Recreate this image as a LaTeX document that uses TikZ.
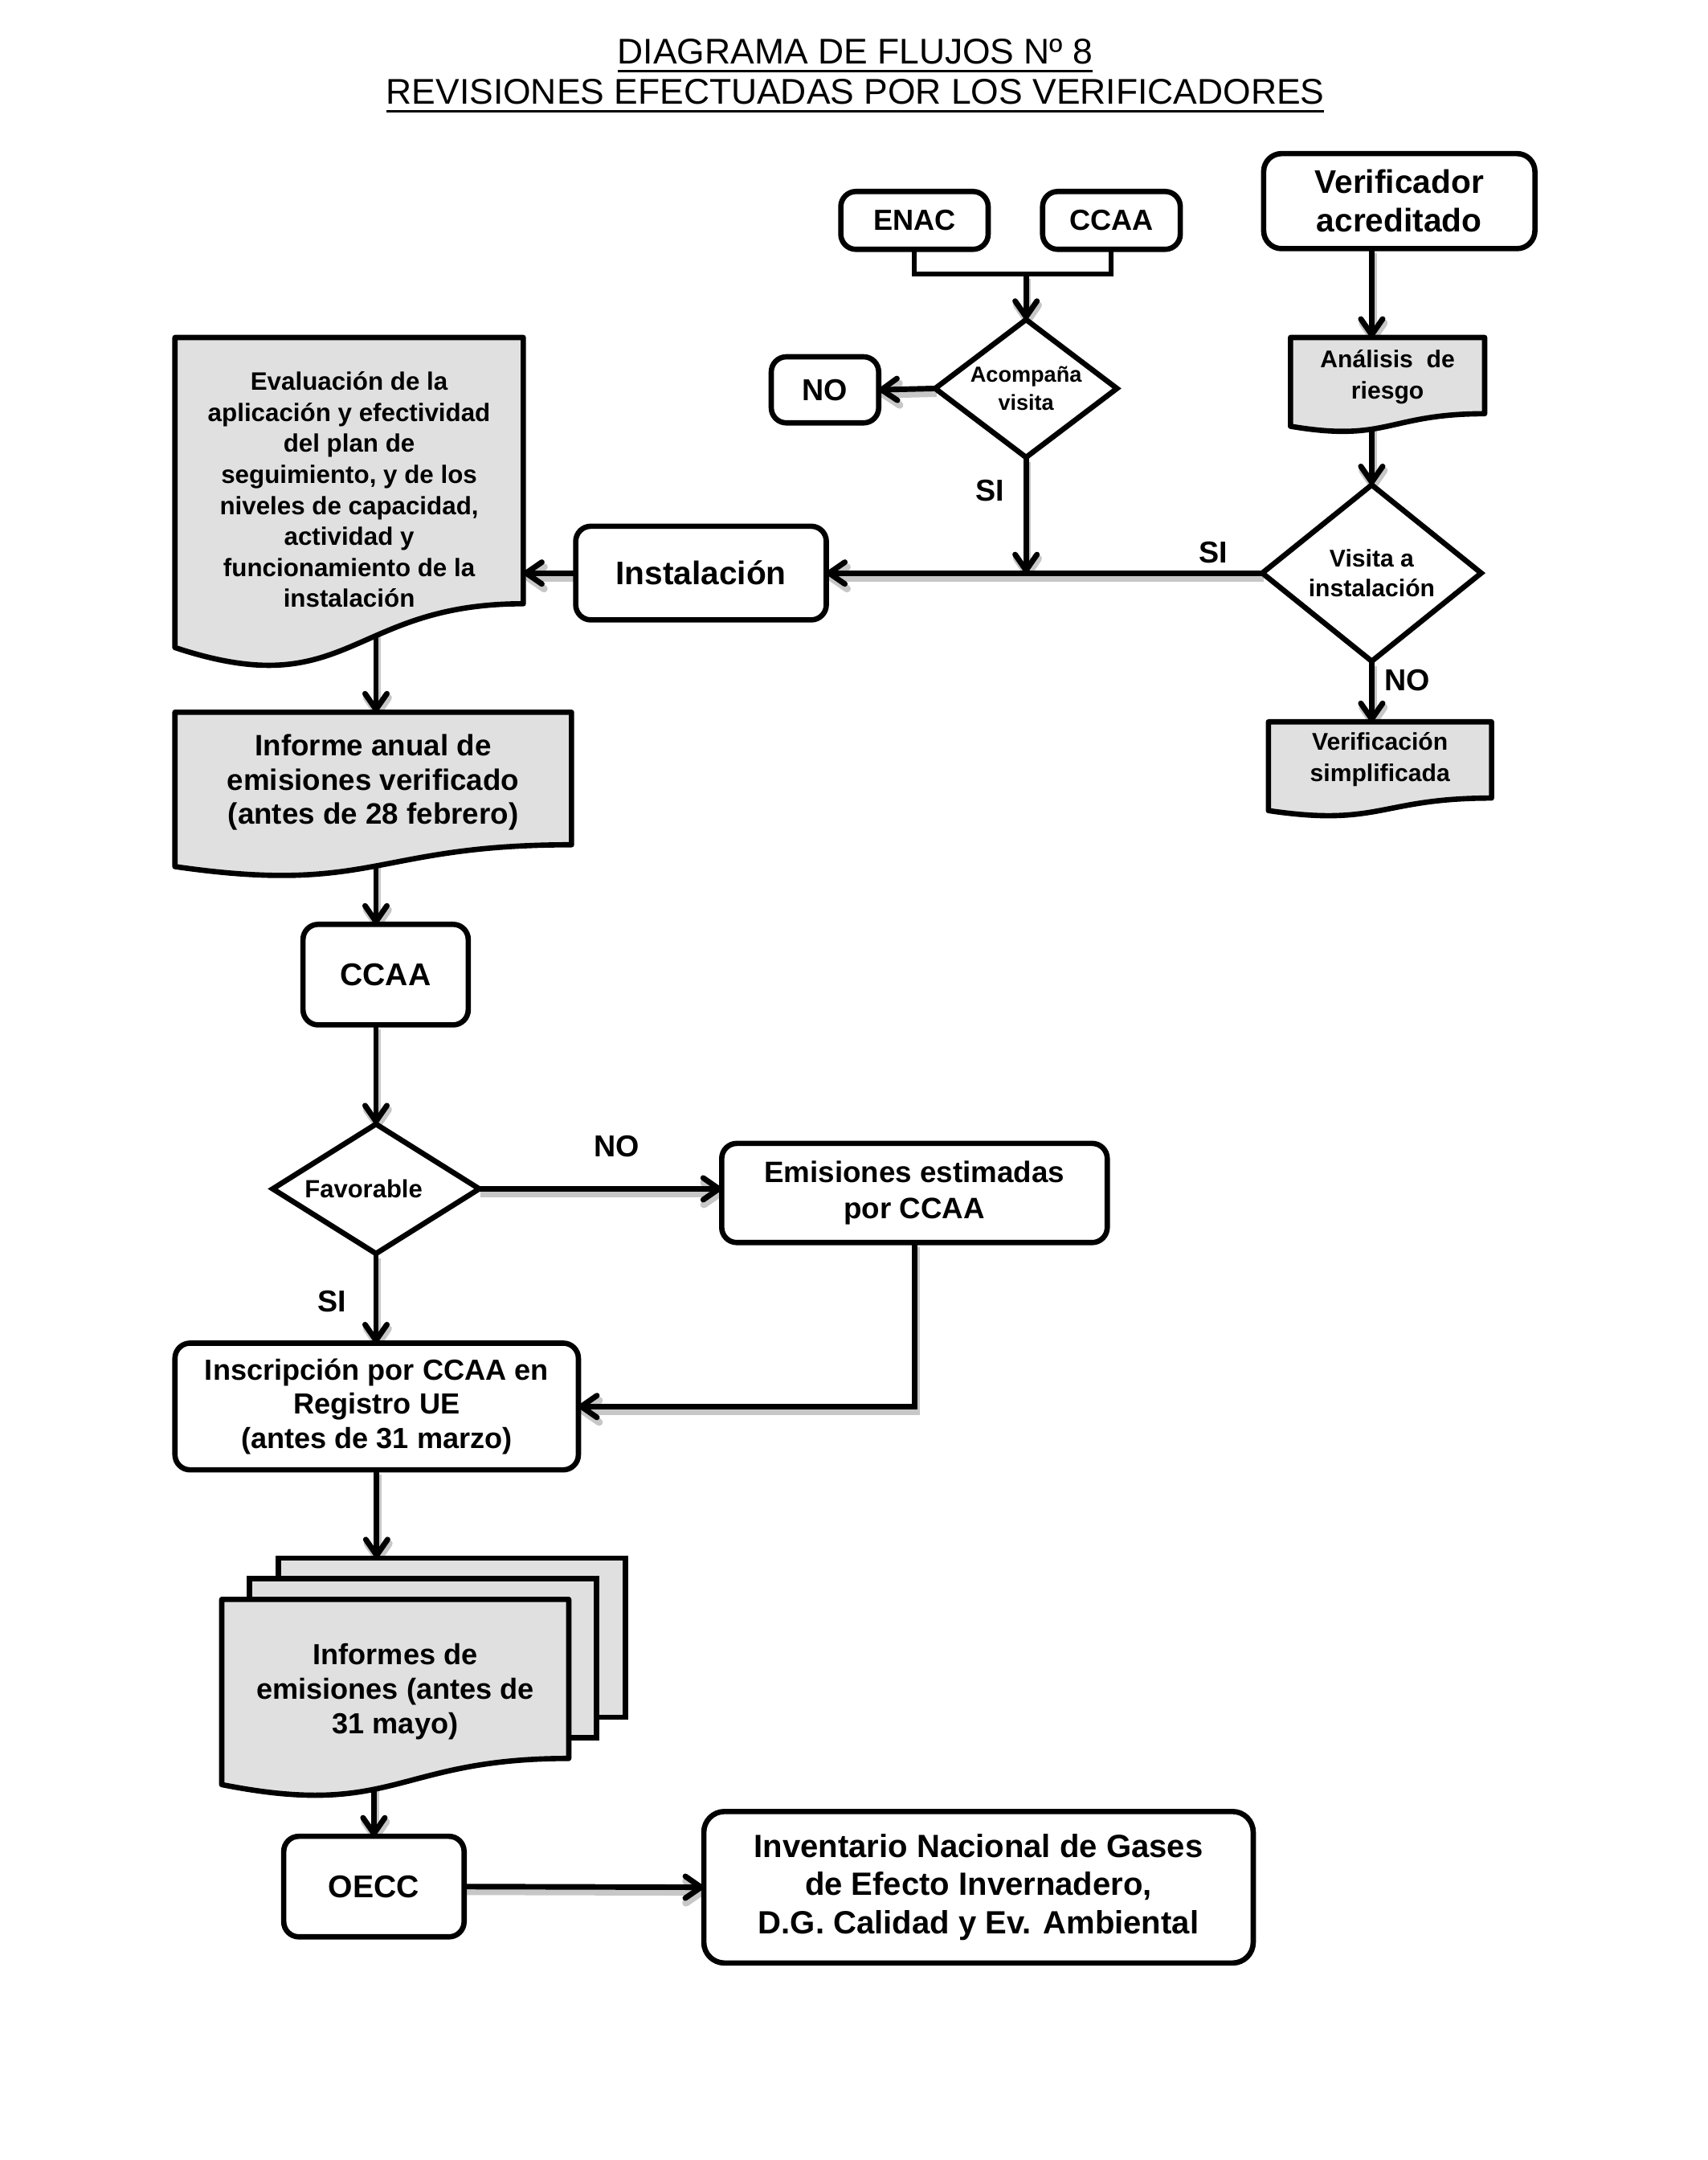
\documentclass[tikz,border=0pt]{standalone}
\usepackage{fontspec}
\setmainfont{Liberation Sans}
\usetikzlibrary{shapes.geometric, arrows.meta, calc, backgrounds}
\definecolor{docgray}{RGB}{224,224,224}
% underlined title line
\newcommand{\uln}[1]{\sbox0{#1}\rlap{\usebox0}\rule[-3.5pt]{\wd0}{1.1pt}}
% document outline drawn round an empty holder node
\newcommand{\docshape}[1]{%
  \draw[docline] (#1.north west) -- (#1.north east)
    -- ($(#1.north east)!0.802!(#1.south east)$)
    .. controls ($(#1.north)!0.802!(#1.south)$) and ($(#1.north)!1.108!(#1.south)$)
    .. ($(#1.north west)!0.934!(#1.south west)$) -- cycle;
  \coordinate (#1-w) at ($(#1.north)!0.85!(#1.south)$);%
}

\begin{document}
\begin{tikzpicture}[x=0.02cm, y=-0.02cm,
  box/.style={draw, line width=2.2pt, rounded corners=0.22cm, fill=white, align=center, inner sep=0pt, outer sep=0pt},
  dec/.style={draw, diamond, line width=2.2pt, fill=white, align=center, inner sep=0pt, outer sep=0pt},
  doc/.style={inner sep=0pt, outer sep=0pt},
  docline/.style={line width=2.2pt, draw, fill=docgray, line join=round},
  sheet/.style={draw, line width=2.2pt, fill=docgray, inner sep=0pt, outer sep=0pt},
  doctext/.style={align=center, inner sep=0pt},
  lbl/.style={font=\fontsize{12.5}{15}\selectfont\bfseries},
  shade/.style={preaction={draw=black!22, line width=3pt, transform canvas={shift={(0.6pt,-2pt)}}}},
  arr/.style={-{Straight Barb[length=6.5pt, width=9pt, line cap=round, line join=round]}, line width=2.3pt, shade},
  line/.style={line width=2pt},
]
\useasboundingbox (0,0) rectangle (1240,1568);

% Title
\node[font=\fontsize{14.75}{16.5}\selectfont, align=center] (title) at (621,55)
  {\uln{DIAGRAMA DE FLUJOS Nº 8}\\\uln{REVISIONES EFECTUADAS POR LOS VERIFICADORES}};

% Top: accreditation bodies and verifier
\node[box, minimum width=2.14cm, minimum height=0.84cm, font=\fontsize{12}{14}\selectfont\bfseries] (enac) at (664,160) {ENAC};
\node[box, minimum width=2.0cm, minimum height=0.84cm, font=\fontsize{12}{14}\selectfont\bfseries] (ccaa1) at (807,160) {CCAA};
\node[box, rounded corners=0.26cm, minimum width=3.94cm, minimum height=1.38cm, font=\fontsize{13.5}{16}\selectfont\bfseries] (verif) at (1016,146) {Verificador\\acreditado};
\node[dec, aspect=1.32, minimum width=2.64cm, minimum height=2cm, font=\fontsize{9}{11.4}\selectfont\bfseries] (acomp) at (745,282) {Acompaña\\visita};
\node[box, minimum width=1.56cm, minimum height=0.96cm, font=\fontsize{12.5}{15}\selectfont\bfseries] (no1) at (599,283) {NO};

% Right column
\node[doc, minimum width=2.82cm, minimum height=1.38cm] (anal) at (1007.5,279.5) {};
\docshape{anal}
\node[doctext, font=\fontsize{10}{13}\selectfont\bfseries] (anal-t) at ($(anal)+(0,-6)$) {Análisis \ de\\riesgo};
\node[dec, aspect=1.24, minimum width=3.18cm, minimum height=2.56cm, font=\fontsize{10}{12.5}\selectfont\bfseries] (visita) at (996,416) {Visita a\\instalación};
\node[doc, minimum width=3.24cm, minimum height=1.38cm] (verifs) at (1002,558.5) {};
\docshape{verifs}
\node[doctext, font=\fontsize{10}{13}\selectfont\bfseries] (verifs-t) at ($(verifs)+(0,-7)$) {Verificación\\simplificada};

% Installation and evaluation
\node[box, minimum width=3.64cm, minimum height=1.36cm, font=\fontsize{13.5}{16}\selectfont\bfseries] (inst) at (509,416) {Instalación};
\node[doc, minimum width=5.06cm, minimum height=4.82cm] (eval) at (253.5,365.5) {};
\docshape{eval}
\node[doctext, font=\fontsize{10.4}{12.8}\selectfont\bfseries] (eval-t) at ($(eval)+(0,-10)$)
  {Evaluación de la\\aplicación y efectividad\\del plan de\\seguimiento, y de los\\niveles de capacidad,\\actividad y\\funcionamiento de la\\instalación};

% Left column
\node[doc, minimum width=5.76cm, minimum height=2.4cm] (inf) at (271,577) {};
\docshape{inf}
\node[doctext, font=\fontsize{12.2}{14.2}\selectfont\bfseries] (inf-t) at ($(inf)+(0,-9)$)
  {Informe anual de\\emisiones verificado\\(antes de 28 febrero)};
\node[box, minimum width=2.4cm, minimum height=1.46cm, font=\fontsize{13}{15}\selectfont\bfseries] (ccaa2) at (280,707.5) {CCAA};
\node[dec, aspect=1.6, minimum width=3.0cm, minimum height=1.88cm, font=\fontsize{10.3}{12}\selectfont\bfseries] (fav) at (273,863) {Favorable\hspace{0.36cm}};
\node[box, minimum width=5.6cm, minimum height=1.44cm, font=\fontsize{12.2}{14.7}\selectfont\bfseries] (est) at (664,866) {Emisiones estimadas\\por CCAA};
\node[box, minimum width=5.86cm, minimum height=1.84cm, font=\fontsize{12}{14.2}\selectfont\bfseries] (ins) at (273.5,1021) {Inscripción por CCAA en\\Registro UE\\(antes de 31 marzo)};

% Stack of reports
\node[sheet, minimum width=5.04cm, minimum height=2.31cm] (back) at (328,1188.75) {};
\node[sheet, minimum width=5.04cm, minimum height=2.31cm] (mid) at (307,1203.75) {};
\node[doc, minimum width=5.04cm, minimum height=2.88cm] (front) at (287,1233) {};
\docshape{front}
\node[doctext, font=\fontsize{12}{14.2}\selectfont\bfseries] (front-t) at ($(front)+(0,-5)$)
  {Informes de\\emisiones (antes de\\31 mayo)};

\node[box, minimum width=2.62cm, minimum height=1.46cm, font=\fontsize{13}{15}\selectfont\bfseries] (oecc) at (271.5,1369.5) {OECC};
\node[box, rounded corners=0.3cm, minimum width=7.98cm, minimum height=2.2cm, font=\fontsize{13.3}{15.9}\selectfont\bfseries] (inv) at (710.5,1370)
  {\rule{0pt}{0.12cm}Inventario Nacional de Gases\\de Efecto Invernadero,\\D.G. Calidad y Ev. Ambiental};

% Branch labels
\node[lbl] (si1) at (719,356) {SI};
\node[lbl] (si2) at (881,401) {SI};
\node[lbl] (no2) at (1022,494) {NO};
\node[lbl] (no3) at (448,832) {NO};
\node[lbl] (si3) at (241,945) {SI};

% Connectors
\begin{scope}[on background layer]
\coordinate (jn) at ($(acomp.north)+(0,-33)$);
\draw[line] (enac.south) |- (jn) -| (ccaa1.south);
\draw[arr] (jn) -- (acomp.north);
\draw[arr] (acomp.west) -- (no1.east);
\draw[arr] (acomp.south) -- (acomp.south |- inst.east);
\draw[arr] (visita.west) -- (inst.east);
\draw[arr] (inst.west) -- (inst.west -| eval.east);
\draw[arr] (verif.south -| visita.north) -- (anal.north -| visita.north);
\draw[arr] (anal-w -| visita.north) -- (visita.north);
\draw[arr] (visita.south) -- (visita.south |- verifs.north);
\draw[arr] (eval-w -| fav.north) -- (inf.north -| fav.north);
\draw[arr] (inf-w -| fav.north) -- (ccaa2.north -| fav.north);
\draw[arr] (ccaa2.south -| fav.north) -- (fav.north);
\draw[arr] (fav.east) -- (fav.east -| est.west);
\draw[arr] (fav.south) -- (fav.south |- ins.north);
\draw[arr] (est.south) |- (ins.east);
\draw[arr] (ins.south) -- (ins.south |- back.north);
\draw[arr] (front-w -| oecc.north) -- (oecc.north);
\draw[arr] (oecc.east) -- (inv.west);
\end{scope}
\end{tikzpicture}
\end{document}
